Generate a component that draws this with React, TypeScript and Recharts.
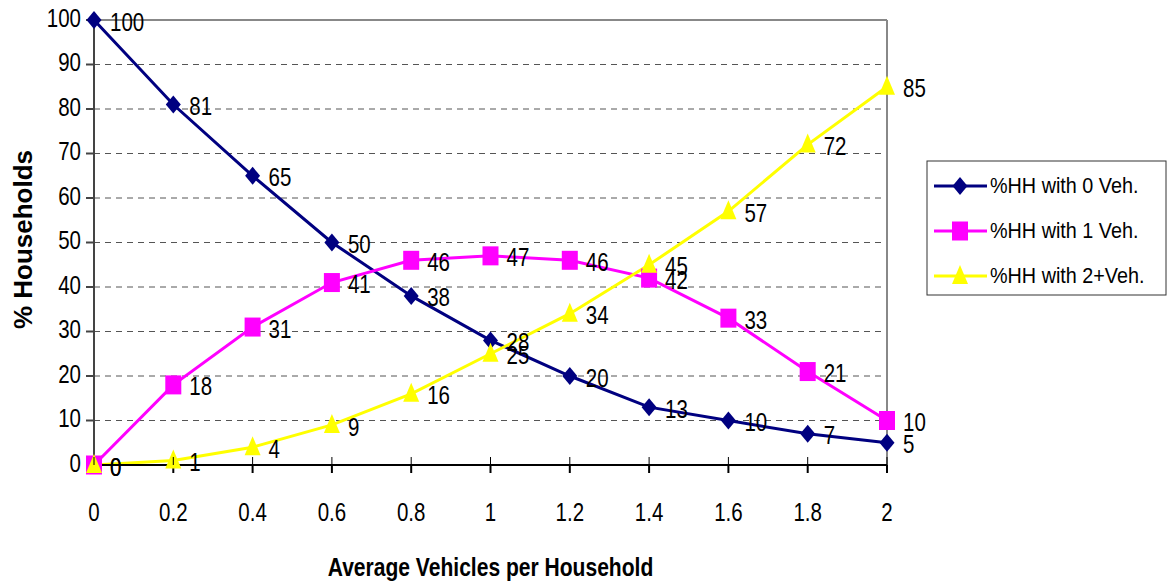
import { CartesianGrid, LabelList, Line, LineChart, ReferenceLine, XAxis, YAxis } from 'recharts';

const avgVehicles = [0, 0.2, 0.4, 0.6, 0.8, 1, 1.2, 1.4, 1.6, 1.8, 2];
const zeroVeh = [100, 81, 65, 50, 38, 28, 20, 13, 10, 7, 5];
const oneVeh = [0, 18, 31, 41, 46, 47, 46, 42, 33, 21, 10];
const twoPlusVeh = [0, 1, 4, 9, 16, 25, 34, 45, 57, 72, 85];
const yTicks = [0, 10, 20, 30, 40, 50, 60, 70, 80, 90, 100];

const seriesNames = ['%HH with 0 Veh.', '%HH with 1 Veh.', '%HH with 2+Veh.'];
const seriesColors = ['#000080', '#FF00FF', '#FFFF00'];

const data = avgVehicles.map((x, i) => ({
  x,
  v0: zeroVeh[i],
  v1: oneVeh[i],
  v2: twoPlusVeh[i],
}));

const FONT = '"Liberation Sans", Arial, sans-serif';
const NARROW = 0.82;

// Liberation has no narrow cut here, so squeeze horizontally around the anchor
function NarrowText({ x, y, children, size = 25, anchor = 'start', bold = false, baseline = 'auto', scale = NARROW }: any) {
  return (
    <text
      transform={`translate(${x},${y}) scale(${scale},1)`}
      fontSize={size}
      fontFamily={FONT}
      fontWeight={bold ? 'bold' : 'normal'}
      textAnchor={anchor}
      dominantBaseline={baseline}
      fill="#000"
    >
      {children}
    </text>
  );
}

// markers are a bit taller than wide in the original
function Marker({ kind, cx, cy, color }: { kind: number; cx: number; cy: number; color: string }) {
  if (kind === 0) {
    return <path d={`M${cx},${cy - 9}L${cx + 7.5},${cy}L${cx},${cy + 9}L${cx - 7.5},${cy}Z`} fill={color} />;
  }
  if (kind === 1) {
    return <rect x={cx - 8} y={cy - 9.5} width={16} height={19} fill={color} />;
  }
  return <path d={`M${cx},${cy - 11}L${cx + 8},${cy + 8}L${cx - 8},${cy + 8}Z`} fill={color} />;
}

const dotFor = (kind: number) => (props: any) => {
  const { cx, cy, index } = props;
  if (cx == null || cy == null) return <g key={index} />;
  return <Marker key={index} kind={kind} cx={cx} cy={cy} color={seriesColors[kind]} />;
};

function PointLabel(props: any) {
  const { x, y, value } = props;
  return (
    <NarrowText x={x + 16} y={y + 4} baseline="middle">
      {value}
    </NarrowText>
  );
}

function XTick(props: any) {
  const { x, y, payload } = props;
  // y is axis + tickSize(8) + tickMargin(30)
  const axisY = y - 38;
  return (
    <g>
      <line x1={x} y1={axisY - 8} x2={x} y2={axisY} stroke="#000" strokeWidth={1} />
      <NarrowText x={x} y={y} anchor="middle" baseline="hanging">
        {payload.value}
      </NarrowText>
    </g>
  );
}

function YTick(props: any) {
  const { x, y, payload } = props;
  return (
    <NarrowText x={x} y={y} anchor="end" baseline="middle">
      {payload.value}
    </NarrowText>
  );
}

function XTitle(props: any) {
  const { viewBox } = props;
  return (
    <NarrowText x={viewBox.x + viewBox.width / 2} y={viewBox.y + 111} anchor="middle" size={26} bold scale={0.81}>
      Average Vehicles per Household
    </NarrowText>
  );
}

function YTitle(props: any) {
  const { viewBox } = props;
  const cy = viewBox.y + viewBox.height / 2;
  return (
    <text
      transform={`translate(32,${cy - 3}) rotate(-90)`}
      fontSize={26}
      fontWeight="bold"
      fontFamily={FONT}
      textAnchor="middle"
      fill="#000"
    >
      % Households
    </text>
  );
}

function LegendBox() {
  return (
    <svg width={242} height={137} style={{ position: 'absolute', left: 926, top: 160 }}>
      <rect x={1} y={1} width={239} height={134} fill="#fff" stroke="#333" strokeWidth={1} />
      {seriesNames.map((name, i) => {
        const cy = 26 + i * 45;
        return (
          <g key={name}>
            <line x1={8} y1={cy} x2={61} y2={cy} stroke={seriesColors[i]} strokeWidth={3} />
            <Marker kind={i} cx={34} cy={cy} color={seriesColors[i]} />
            <NarrowText x={64} y={cy + 1} size={22} baseline="middle" scale={0.9}>
              {name}
            </NarrowText>
          </g>
        );
      })}
    </svg>
  );
}

export default function App() {
  return (
    <div style={{ position: 'absolute', left: 0, top: 0, width: 1174, height: 582, background: '#fff' }}>
      <LineChart width={1174} height={582} data={data} margin={{ top: 20, right: 287, left: 34, bottom: 27 }}>
        <CartesianGrid vertical={false} stroke="#555" strokeDasharray="6 5" />
        <ReferenceLine y={100} stroke="#888" strokeWidth={2} />
        <ReferenceLine x={2} stroke="#888" strokeWidth={2} />
        <XAxis
          dataKey="x"
          type="number"
          domain={[0, 2]}
          ticks={avgVehicles}
          interval={0}
          height={90}
          tickSize={8}
          tickMargin={30}
          stroke="#000"
          strokeWidth={2}
          tick={XTick}
          label={{ content: XTitle }}
        />
        <YAxis
          type="number"
          domain={[0, 100]}
          ticks={yTicks}
          interval={0}
          width={60}
          tickSize={8}
          tickMargin={5}
          stroke="#444"
          strokeWidth={2}
          tick={YTick}
          label={{ content: YTitle }}
        />
        <Line dataKey="v0" name={seriesNames[0]} stroke={seriesColors[0]} strokeWidth={3} dot={dotFor(0)} isAnimationActive={false}>
          <LabelList dataKey="v0" content={PointLabel} />
        </Line>
        <Line dataKey="v1" name={seriesNames[1]} stroke={seriesColors[1]} strokeWidth={3} dot={dotFor(1)} isAnimationActive={false}>
          <LabelList dataKey="v1" content={PointLabel} />
        </Line>
        <Line dataKey="v2" name={seriesNames[2]} stroke={seriesColors[2]} strokeWidth={3} dot={dotFor(2)} isAnimationActive={false}>
          <LabelList dataKey="v2" content={PointLabel} />
        </Line>
      </LineChart>
      <LegendBox />
    </div>
  );
}
